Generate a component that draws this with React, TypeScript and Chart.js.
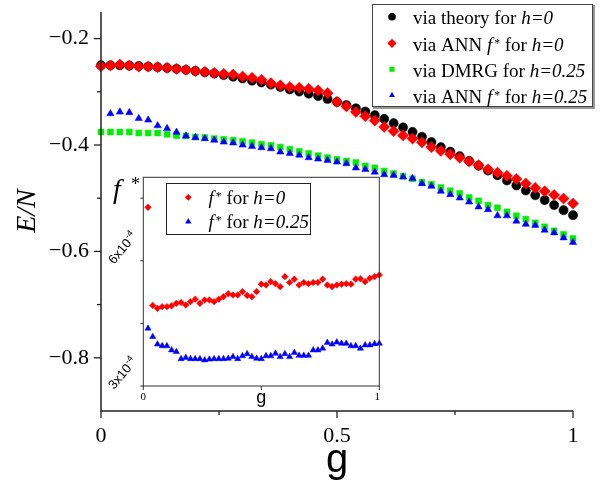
import React, { useEffect, useRef } from 'react';
import { Chart, registerables } from 'chart.js';

Chart.register(...registerables);

// ---------------- data ----------------
const G = [0, 0.02, 0.04, 0.06, 0.08, 0.1, 0.12, 0.14, 0.16, 0.18, 0.2, 0.22, 0.24, 0.26, 0.28, 0.3, 0.32, 0.34, 0.36, 0.38,
  0.4, 0.42, 0.44, 0.46, 0.48, 0.5, 0.52, 0.54, 0.56, 0.58, 0.6, 0.62, 0.64, 0.66, 0.68, 0.7, 0.72, 0.74, 0.76, 0.78,
  0.8, 0.82, 0.84, 0.86, 0.88, 0.9, 0.92, 0.94, 0.96, 0.98, 1];

const E_THEORY_H0 = [
  -0.2500, -0.2501, -0.2503, -0.2508, -0.2515, -0.2525, -0.2537, -0.2551, -0.2568, -0.2587,
  -0.2608, -0.2632, -0.2658, -0.2686, -0.2717, -0.2750, -0.2790, -0.2825, -0.2865, -0.2910,
  -0.2955, -0.2995, -0.3035, -0.3080, -0.3135, -0.3190, -0.3250, -0.3310, -0.3370, -0.3440,
  -0.3510, -0.3590, -0.3670, -0.3755, -0.3845, -0.3945, -0.4040, -0.4125, -0.4210, -0.4300,
  -0.4390, -0.4480, -0.4570, -0.4665, -0.4760, -0.4855, -0.4945, -0.5035, -0.5130, -0.5225,
  -0.5320];

const E_ANN_H0 = [
  -0.2519, -0.2506, -0.2488, -0.2506, -0.2525, -0.2525, -0.2538, -0.2550, -0.2569, -0.2588,
  -0.2613, -0.2625, -0.2644, -0.2663, -0.2675, -0.2713, -0.2738, -0.2775, -0.2838, -0.2880,
  -0.2910, -0.2925, -0.2944, -0.2975, -0.3025, -0.3190, -0.3275, -0.3380, -0.3460, -0.3540,
  -0.3660, -0.3740, -0.3820, -0.3880, -0.3950, -0.4040, -0.4110, -0.4175, -0.4240, -0.4310,
  -0.4380, -0.4456, -0.4520, -0.4580, -0.4640, -0.4725, -0.4806, -0.4870, -0.4940, -0.5006,
  -0.5100];

const E_DMRG_H025 = [
  -0.3756, -0.3756, -0.3756, -0.3756, -0.3775, -0.3775, -0.3775, -0.3800, -0.3825, -0.3830,
  -0.3850, -0.3860, -0.3880, -0.3894, -0.3910, -0.3931, -0.3956, -0.3985, -0.4006, -0.4040,
  -0.4080, -0.4120, -0.4160, -0.4200, -0.4237, -0.4270, -0.4300, -0.4330, -0.4394, -0.4430,
  -0.4490, -0.4537, -0.4587, -0.4635, -0.4700, -0.4737, -0.4800, -0.4860, -0.4910, -0.4987,
  -0.5050, -0.5131, -0.5180, -0.5256, -0.5330, -0.5394, -0.5463, -0.5538, -0.5613, -0.5680,
  -0.5756];

// ANN h=0.25 starts at g = 0.02
const E_ANN_H025 = [
  -0.3410, -0.3380, -0.3390, -0.3500, -0.3530, -0.3638, -0.3690, -0.3760, -0.3830, -0.3860,
  -0.3880, -0.3910, -0.3944, -0.3960, -0.4000, -0.4025, -0.4050, -0.4069, -0.4131, -0.4160,
  -0.4190, -0.4237, -0.4263, -0.4288, -0.4320, -0.4350, -0.4430, -0.4460, -0.4510, -0.4556,
  -0.4570, -0.4600, -0.4630, -0.4725, -0.4775, -0.4869, -0.4931, -0.4994, -0.5070, -0.5163,
  -0.5213, -0.5330, -0.5330, -0.5430, -0.5490, -0.5510, -0.5600, -0.5650, -0.5744, -0.5830];

// inset: f* in units of 10^-4, g from 0.02 to 1
const F_STAR_H0 = [
  7.28, 4.93, 4.86, 4.90, 4.90, 4.92, 4.98, 5.00, 4.94, 5.02,
  5.08, 4.98, 5.06, 5.06, 5.02, 5.08, 5.14, 5.21, 5.18, 5.18,
  5.26, 5.17, 5.14, 5.26, 5.44, 5.42, 5.50, 5.45, 5.38, 5.62,
  5.48, 5.56, 5.42, 5.48, 5.45, 5.48, 5.48, 5.56, 5.42, 5.38,
  5.42, 5.44, 5.45, 5.44, 5.56, 5.57, 5.50, 5.58, 5.62, 5.66];

const F_STAR_H025 = [
  4.38, 4.18, 4.00, 3.96, 3.96, 3.86, 3.82, 3.65, 3.68, 3.65,
  3.65, 3.65, 3.62, 3.64, 3.65, 3.65, 3.65, 3.66, 3.70, 3.65,
  3.72, 3.77, 3.70, 3.66, 3.65, 3.72, 3.72, 3.78, 3.70, 3.77,
  3.70, 3.80, 3.73, 3.73, 3.73, 3.86, 3.86, 3.90, 4.04, 4.00,
  4.05, 4.02, 4.02, 3.96, 3.96, 3.90, 3.98, 3.98, 4.01, 4.02];

const MAIN_X_TICKS = [0, 0.5, 1];
const MAIN_X_MINOR = [0.25, 0.75];
const MAIN_Y_TICKS = [-0.8, -0.6, -0.4, -0.2];
const MAIN_Y_MINOR = [-0.7, -0.5, -0.3];
const INSET_X_TICKS = [0, 0.5, 1];
const INSET_X_LABELS = ['0', '1'];
const INSET_Y_TICKS = [3, 4.5, 6, 7.5];
const INSET_Y_LABELS = ['3', '6'];

const LEGEND_MAIN = [
  { style: 'circle', color: '#000000', r: 3.8, segs: [{ t: 'via theory for ' }, { t: 'h=0', it: true }] },
  { style: 'rectRot', color: '#ff0000', r: 4.6, segs: [{ t: 'via ANN ' }, { t: 'f', it: true }, { t: '*', sup: true }, { t: ' for ' }, { t: 'h=0', it: true }] },
  { style: 'rect', color: '#00ee00', r: 3.6, segs: [{ t: 'via DMRG for ' }, { t: 'h=0.25', it: true }] },
  { style: 'triangle', color: '#0000ff', r: 3.4, segs: [{ t: 'via ANN ' }, { t: 'f', it: true }, { t: '*', sup: true }, { t: ' for ' }, { t: 'h=0.25', it: true }] },
];
const LEGEND_INSET = [
  { style: 'rectRot', color: '#ff0000', r: 3.4, segs: [{ t: 'f', it: true }, { t: '*', sup: true }, { t: ' for ' }, { t: 'h=0', it: true }] },
  { style: 'triangle', color: '#0000ff', r: 3.6, segs: [{ t: 'f', it: true }, { t: '*', sup: true }, { t: ' for ' }, { t: 'h=0.25', it: true }] },
];

// ---------------- helpers ----------------
const SERIF = "'Liberation Serif', 'Times New Roman', serif";
const SANS = "'Liberation Sans', Arial, sans-serif";
const INSET_LEFT = 100;
const INSET_TOP = 165;

type Seg = { t: string; it?: boolean; sup?: boolean };

function drawRich(ctx: CanvasRenderingContext2D, x: number, y: number, segs: Seg[], size: number) {
  let cx = x;
  ctx.textAlign = 'left';
  ctx.textBaseline = 'alphabetic';
  for (const s of segs) {
    const fs = s.sup ? size * 0.62 : size;
    ctx.font = `${s.it ? 'italic ' : ''}${fs}px ${SERIF}`;
    ctx.fillText(s.t, cx, s.sup ? y - size * 0.22 : y);
    cx += ctx.measureText(s.t).width + (s.it && s.t === 'f' ? 2 : 0);
  }
}

function drawMarker(ctx: CanvasRenderingContext2D, style: string, x: number, y: number, r: number, color: string) {
  ctx.save();
  ctx.fillStyle = color;
  ctx.beginPath();
  if (style === 'circle') ctx.arc(x, y, r, 0, Math.PI * 2);
  else if (style === 'rectRot') {
    ctx.moveTo(x, y - r); ctx.lineTo(x + r, y); ctx.lineTo(x, y + r); ctx.lineTo(x - r, y); ctx.closePath();
  } else if (style === 'rect') {
    const s = r * Math.SQRT1_2;
    ctx.rect(x - s, y - s, 2 * s, 2 * s);
  } else {
    ctx.moveTo(x, y - r); ctx.lineTo(x + r * 0.866, y + r / 2); ctx.lineTo(x - r * 0.866, y + r / 2); ctx.closePath();
  }
  ctx.fill();
  ctx.restore();
}

const mainDecor = {
  id: 'mainDecor',
  afterDraw(chart: any) {
    const { ctx, chartArea: ca, scales } = chart;
    const xs = scales.x, ys = scales.y;
    ctx.save();
    ctx.strokeStyle = '#222';
    ctx.lineWidth = 1.5;
    ctx.beginPath();
    ctx.moveTo(ca.left, ca.top);
    ctx.lineTo(ca.left, ca.bottom);
    ctx.lineTo(ca.right, ca.bottom);
    ctx.stroke();
    ctx.lineWidth = 1.3;
    const yt = (v: number, len: number) => {
      const p = ys.getPixelForValue(v);
      ctx.beginPath(); ctx.moveTo(ca.left - len, p); ctx.lineTo(ca.left, p); ctx.stroke();
    };
    const xt = (v: number, len: number) => {
      const p = xs.getPixelForValue(v);
      ctx.beginPath(); ctx.moveTo(p, ca.bottom); ctx.lineTo(p, ca.bottom + len); ctx.stroke();
    };
    MAIN_Y_TICKS.forEach(v => yt(v, 7));
    MAIN_Y_MINOR.forEach(v => yt(v, 4));
    MAIN_X_TICKS.forEach(v => xt(v, 7));
    MAIN_X_MINOR.forEach(v => xt(v, 4));

    // axis titles
    ctx.fillStyle = '#000';
    ctx.save();
    ctx.translate(28, 211);
    ctx.rotate(-Math.PI / 2);
    ctx.font = `italic 28px ${SERIF}`;
    ctx.textAlign = 'center';
    ctx.textBaseline = 'middle';
    ctx.fillText('E/N', 0, 0);
    ctx.restore();
    ctx.font = `40px ${SANS}`;
    ctx.textAlign = 'center';
    ctx.textBaseline = 'alphabetic';
    ctx.fillText('g', (ca.left + ca.right) / 2, 472);

    // legend
    ctx.fillStyle = '#fff';
    ctx.fillRect(372, 4, 221, 103);
    ctx.strokeStyle = '#444';
    ctx.lineWidth = 1;
    ctx.strokeRect(372.5, 4.5, 220, 102);
    ctx.strokeStyle = '#777';
    ctx.lineWidth = 1.5;
    ctx.beginPath(); ctx.moveTo(594, 5); ctx.lineTo(594, 108); ctx.lineTo(373, 108); ctx.stroke();
    const rowsY = [16.7, 43.3, 69.3, 95.2];
    LEGEND_MAIN.forEach((e, i) => {
      drawMarker(ctx, e.style, 392, rowsY[i], e.r, e.color);
      ctx.fillStyle = '#000';
      drawRich(ctx, 413, rowsY[i] + 7.5, e.segs, 19);
    });
    ctx.restore();
  },
};

const insetDecor = {
  id: 'insetDecor',
  beforeDatasetsDraw(chart: any) {
    const { ctx, chartArea: ca } = chart;
    ctx.save();
    ctx.fillStyle = '#fff';
    ctx.fillRect(ca.left, ca.top, ca.right - ca.left, ca.bottom - ca.top);
    ctx.restore();
  },
  afterDraw(chart: any) {
    const { ctx, chartArea: ca, scales } = chart;
    const xs = scales.x, ys = scales.y;
    const ox = INSET_LEFT, oy = INSET_TOP;
    ctx.save();
    ctx.strokeStyle = '#333';
    ctx.lineWidth = 1;
    ctx.strokeRect(ca.left, ca.top, ca.right - ca.left, ca.bottom - ca.top);
    INSET_Y_TICKS.forEach(v => {
      const p = ys.getPixelForValue(v);
      ctx.beginPath(); ctx.moveTo(ca.left - 3, p); ctx.lineTo(ca.left, p); ctx.stroke();
    });
    INSET_X_TICKS.forEach(v => {
      const p = xs.getPixelForValue(v);
      ctx.beginPath(); ctx.moveTo(p, ca.bottom); ctx.lineTo(p, ca.bottom + 4); ctx.stroke();
    });
    ctx.fillStyle = '#000';
    // x tick labels
    ctx.font = `11px ${SERIF}`;
    ctx.textAlign = 'center';
    ctx.textBaseline = 'middle';
    ctx.fillText(INSET_X_LABELS[0], xs.getPixelForValue(0), 397 - oy);
    ctx.fillText(INSET_X_LABELS[1], xs.getPixelForValue(1) - 2, 397 - oy);
    // x title
    ctx.font = `18px ${SANS}`;
    ctx.textBaseline = 'alphabetic';
    ctx.fillText('g', xs.getPixelForValue(0.5), 403 - oy);
    // rotated y labels
    INSET_Y_LABELS.forEach(l => {
      const p = ys.getPixelForValue(Number(l));
      ctx.save();
      ctx.translate(114 - ox, p + 4);
      ctx.rotate(-50 * Math.PI / 180);
      ctx.textAlign = 'left';
      ctx.textBaseline = 'alphabetic';
      ctx.font = `13px ${SANS}`;
      const base = l + 'x10';
      ctx.fillText(base, 0, 0);
      const w = ctx.measureText(base).width;
      ctx.font = `9px ${SANS}`;
      ctx.fillText('-4', w + 0.5, -5.5);
      ctx.restore();
    });
    // y title f*
    ctx.textAlign = 'left';
    ctx.textBaseline = 'alphabetic';
    ctx.font = `italic 28px ${SERIF}`;
    ctx.fillText('f', 113 - ox, 198 - oy);
    ctx.font = `18px ${SERIF}`;
    ctx.fillText('*', 131 - ox, 190 - oy);
    // legend
    ctx.fillStyle = '#fff';
    ctx.fillRect(166 - ox, 183 - oy, 145, 52);
    ctx.strokeStyle = '#222';
    ctx.lineWidth = 1;
    ctx.strokeRect(166.5 - ox, 183.5 - oy, 144, 51);
    const rows = [197.3, 221.7];
    LEGEND_INSET.forEach((e, i) => {
      drawMarker(ctx, e.style, 188.3 - ox, rows[i] - oy, e.r, e.color);
      ctx.fillStyle = '#000';
      drawRich(ctx, 208.5 - ox, rows[i] + 6.5 - oy, e.segs, 19);
    });
    ctx.restore();
  },
};

export default function App() {
  const mainRef = useRef<HTMLCanvasElement>(null);
  const insetRef = useRef<HTMLCanvasElement>(null);

  useEffect(() => {
    const main = new Chart(mainRef.current as HTMLCanvasElement, {
      type: 'scatter',
      data: {
        datasets: [
          {
            label: 'via theory for h=0',
            data: G.map((g, i) => ({ x: g, y: E_THEORY_H0[i] })),
            pointStyle: 'circle', pointRadius: 4.6, backgroundColor: '#000', borderColor: '#000', borderWidth: 0.5,
            order: 4, clip: false,
          },
          {
            label: 'via ANN f* for h=0',
            data: G.map((g, i) => ({ x: g, y: E_ANN_H0[i] })),
            pointStyle: 'rectRot', pointRadius: 5.6, backgroundColor: '#ff0000', borderColor: '#ff0000', borderWidth: 0.5,
            order: 3, clip: false,
          },
          {
            label: 'via DMRG for h=0.25',
            data: G.map((g, i) => ({ x: g, y: E_DMRG_H025[i] })),
            pointStyle: 'rect', pointRadius: 4.2, backgroundColor: '#00ee00', borderColor: '#00ee00', borderWidth: 0.5,
            order: 2, clip: false,
          },
          {
            label: 'via ANN f* for h=0.25',
            data: E_ANN_H025.map((v, i) => ({ x: G[i + 1], y: v })),
            pointStyle: 'triangle', pointRadius: 4.2, backgroundColor: '#0000ff', borderColor: '#0000ff', borderWidth: 0.5,
            order: 1, clip: false,
          },
        ],
      },
      options: {
        animation: false,
        responsive: false,
        devicePixelRatio: 1,
        layout: { padding: { top: 12, right: 36, left: 0, bottom: 0 } },
        plugins: { legend: { display: false }, tooltip: { enabled: false } },
        scales: {
          x: {
            type: 'linear', min: 0, max: 1,
            grid: { display: false, drawTicks: false },
            border: { display: false },
            afterBuildTicks: (s: any) => { s.ticks = MAIN_X_TICKS.map(v => ({ value: v })); },
            afterFit: (s: any) => { s.height = 72; s.paddingLeft = 0; s.paddingRight = 0; },
            ticks: {
              padding: 12, color: '#000', font: { family: SERIF, size: 22 },
              maxRotation: 0, minRotation: 0, autoSkip: false,
              callback: (v: any) => String(Number(v)),
            },
          },
          y: {
            type: 'linear', min: -0.9, max: -0.15,
            grid: { display: false, drawTicks: false },
            border: { display: false },
            afterBuildTicks: (s: any) => { s.ticks = MAIN_Y_TICKS.map(v => ({ value: v })); },
            afterFit: (s: any) => { s.width = 101; s.paddingTop = 0; s.paddingBottom = 0; },
            ticks: {
              padding: 12, color: '#000', font: { family: SERIF, size: 22 }, autoSkip: false,
              callback: (v: any) => (Number(v) < 0 ? '\u2212' : '') + Math.abs(Number(v)).toFixed(1),
            },
          },
        },
      },
      plugins: [mainDecor],
    } as any);

    const inset = new Chart(insetRef.current as HTMLCanvasElement, {
      type: 'scatter',
      data: {
        datasets: [
          {
            label: 'f* for h=0',
            data: F_STAR_H0.map((v, i) => ({ x: G[i + 1], y: v })),
            pointStyle: 'rectRot', pointRadius: 3.3, backgroundColor: '#ff0000', borderColor: '#ff0000', borderWidth: 0.5,
            clip: false,
          },
          {
            label: 'f* for h=0.25',
            data: F_STAR_H025.map((v, i) => ({ x: G[i + 1], y: v })),
            pointStyle: 'triangle', pointRadius: 3.6, backgroundColor: '#0000ff', borderColor: '#0000ff', borderWidth: 0.5,
            clip: false,
          },
        ],
      },
      options: {
        animation: false,
        responsive: false,
        devicePixelRatio: 1,
        layout: { padding: { left: 43.3, top: 12.3, right: 20.7, bottom: 24 } },
        plugins: { legend: { display: false }, tooltip: { enabled: false } },
        scales: {
          x: { type: 'linear', min: 0, max: 1, display: false },
          y: { type: 'linear', min: 3, max: 8, display: false },
        },
      },
      plugins: [insetDecor],
    } as any);

    return () => {
      main.destroy();
      inset.destroy();
    };
  }, []);

  return (
    <div style={{ position: 'absolute', left: 0, top: 0, width: 609, height: 483, background: '#fff', overflow: 'hidden' }}>
      <canvas ref={mainRef} width={609} height={483} style={{ position: 'absolute', left: 0, top: 0, width: 609, height: 483 }} />
      <canvas ref={insetRef} width={300} height={245}
        style={{ position: 'absolute', left: INSET_LEFT, top: INSET_TOP, width: 300, height: 245 }} />
    </div>
  );
}
